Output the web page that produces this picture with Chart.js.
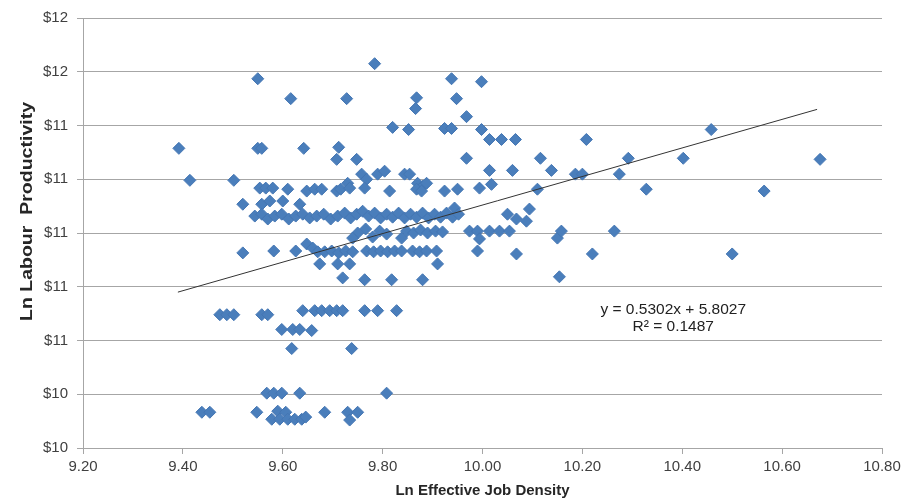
<!DOCTYPE html>
<html>
<head>
<meta charset="utf-8">
<script src="https://cdn.jsdelivr.net/npm/chart.js@4"></script>
<style>
  html, body { margin: 0; padding: 0; background: #ffffff; }
  #c { display: block; }
</style>
</head>
<body>
<canvas id="c" width="910" height="502"></canvas>
<script>
// ---- Data ----
const xTickValues = [9.2, 9.4, 9.6, 9.8, 10.0, 10.2, 10.4, 10.6, 10.8];
const xTickLabels = ['9.20', '9.40', '9.60', '9.80', '10.00', '10.20', '10.40', '10.60', '10.80'];
const yTickValues = [10.2, 10.4, 10.6, 10.8, 11.0, 11.2, 11.4, 11.6, 11.8];
const yTickLabels = ['$10', '$10', '$11', '$11', '$11', '$11', '$11', '$12', '$12'];

const xValues = [
  // upper points
  9.784, 9.550, 9.938, 9.998, 9.616, 9.728, 9.868, 9.866, 9.948, 9.968,
  9.820, 9.852, 9.924, 9.938, 9.998, 10.014, 10.038, 10.066, 10.208, 9.392,
  9.550, 9.558, 9.642, 9.712, 9.708, 9.748, 9.968, 10.116, 10.292, 10.402,
  10.458, 10.676, 10.014, 10.060, 10.138,
  // ~11.2 band
  9.758, 9.768, 9.790, 9.804, 9.844, 9.854, 9.870, 9.880, 9.888, 9.730,
  9.414, 9.502, 9.554, 9.566, 9.580, 9.610, 9.648, 9.664, 9.678, 9.708,
  9.716, 9.734, 9.764, 9.814, 9.868, 9.878, 9.924, 9.950, 9.994, 10.018,
  10.110, 10.186, 10.200, 10.274, 10.328, 10.564,
  // ~11.1 band
  9.520, 9.558, 9.574, 9.600, 9.634, 9.944, 10.094, 10.050, 10.068, 10.088,
  // dense ~11.06 band
  9.544, 9.558, 9.570, 9.584, 9.598, 9.612, 9.626, 9.640, 9.654, 9.668,
  9.682, 9.696, 9.710, 9.724, 9.736, 9.748, 9.760, 9.772, 9.784, 9.796,
  9.808, 9.820, 9.832, 9.844, 9.856, 9.868, 9.880, 9.892, 9.904, 9.916,
  9.928, 9.940, 9.952,
  // ~11.0 to 10.8 bands
  9.750, 9.766, 9.780, 9.794, 9.808, 9.848, 9.862, 9.876, 9.890, 9.906,
  9.920, 9.974, 9.990, 10.014, 10.034, 10.054, 9.740, 9.838, 9.994, 9.648,
  9.660, 9.670, 9.520, 9.582, 9.626, 9.684, 9.698, 9.712, 9.726, 9.740,
  9.768, 9.782, 9.796, 9.810, 9.824, 9.838, 9.860, 9.874, 9.888, 9.908,
  9.990, 10.068, 9.674, 9.710, 9.734, 9.910, 9.720, 9.764, 9.818, 9.880,
  10.150, 10.158, 10.264, 10.220, 10.154, 10.500,
  // ~10.7 to 10.57 bands
  9.474, 9.488, 9.502, 9.558, 9.570, 9.640, 9.664, 9.678, 9.694, 9.708,
  9.720, 9.764, 9.790, 9.828, 9.598, 9.620, 9.634, 9.658, 9.618, 9.738,
  // lowest bands
  9.568, 9.582, 9.598, 9.634, 9.808, 9.438, 9.454, 9.548, 9.684, 9.730,
  9.750, 9.734, 9.578, 9.590, 9.594, 9.606, 9.610, 9.624, 9.638, 9.646
];

const yValues = [
  // upper points
  11.630, 11.574, 11.574, 11.563, 11.500, 11.500, 11.503, 11.463, 11.500, 11.433,
  11.393, 11.385, 11.389, 11.389, 11.385, 11.348, 11.348, 11.348, 11.348, 11.315,
  11.315, 11.315, 11.315, 11.319, 11.274, 11.274, 11.278, 11.278, 11.278, 11.278,
  11.385, 11.274, 11.233, 11.233, 11.233,
  // ~11.2 band
  11.219, 11.200, 11.219, 11.230, 11.219, 11.219, 11.185, 11.174, 11.185, 11.185,
  11.196, 11.196, 11.167, 11.167, 11.167, 11.163, 11.156, 11.163, 11.163, 11.156,
  11.163, 11.167, 11.167, 11.156, 11.163, 11.156, 11.156, 11.163, 11.167, 11.181,
  11.163, 11.219, 11.219, 11.219, 11.163, 11.156,
  // ~11.1 band
  11.107, 11.107, 11.119, 11.119, 11.107, 11.093, 11.089, 11.070, 11.052, 11.044,
  // dense ~11.06 band
  11.063, 11.070, 11.052, 11.063, 11.070, 11.052, 11.063, 11.070, 11.056, 11.063,
  11.070, 11.052, 11.063, 11.074, 11.056, 11.070, 11.081, 11.063, 11.074, 11.056,
  11.070, 11.059, 11.074, 11.056, 11.070, 11.059, 11.074, 11.056, 11.070, 11.059,
  11.074, 11.059, 11.070,
  // ~11.0 to 10.8 bands
  11.000, 11.015, 10.985, 11.007, 10.996, 11.007, 11.000, 11.011, 11.000, 11.007,
  11.004, 11.007, 11.007, 11.007, 11.007, 11.007, 10.981, 10.981, 10.978, 10.959,
  10.944, 10.930, 10.926, 10.933, 10.933, 10.930, 10.933, 10.926, 10.933, 10.930,
  10.933, 10.930, 10.933, 10.930, 10.933, 10.933, 10.933, 10.930, 10.933, 10.933,
  10.933, 10.922, 10.885, 10.885, 10.885, 10.885, 10.833, 10.826, 10.826, 10.826,
  10.981, 11.007, 11.007, 10.922, 10.837, 10.922,
  // ~10.7 to 10.57 bands
  10.696, 10.696, 10.696, 10.696, 10.696, 10.711, 10.711, 10.711, 10.711, 10.711,
  10.711, 10.711, 10.711, 10.711, 10.641, 10.641, 10.641, 10.637, 10.570, 10.570,
  // lowest bands
  10.404, 10.404, 10.404, 10.404, 10.404, 10.333, 10.333, 10.333, 10.333, 10.333,
  10.333, 10.304, 10.307, 10.337, 10.307, 10.333, 10.307, 10.307, 10.307, 10.315
];

// Linear trendline endpoints as drawn in the reference
const trendX = [9.39, 10.67];
const trendY = [10.78, 11.46];
const equationLines = ['y = 0.5302x + 5.8027', 'R\u00B2 = 0.1487'];
const xTitle = 'Ln Effective Job Density';
const yTitle = 'Ln Labour  Productivity';

// ---- Chart ----
const points = xValues.map((x, i) => ({ x: x, y: yValues[i] }));
const trend = trendX.map((x, i) => ({ x: x, y: trendY[i] }));

const gridColor = '#a6a6a6';
const tickFont = { family: 'Liberation Sans, Arial, sans-serif', size: 15 };

const annotationPlugin = {
  id: 'annot',
  afterDraw(chart) {
    const ctx = chart.ctx;
    const xs = chart.scales.x, ys = chart.scales.y;
    ctx.save();
    ctx.fillStyle = '#222222';
    ctx.font = '15.5px "Liberation Sans", Arial, sans-serif';
    ctx.textAlign = 'center';
    ctx.textBaseline = 'middle';
    const cx = xs.getPixelForValue(10.382);
    ctx.fillText(equationLines[0], cx, ys.getPixelForValue(10.713));
    ctx.fillText(equationLines[1], cx, ys.getPixelForValue(10.650));
    // y axis title
    ctx.translate(28, ys.getPixelForValue(11.08));
    ctx.rotate(-Math.PI / 2);
    ctx.scale(1.22, 1);
    ctx.font = 'bold 16px "Liberation Sans", Arial, sans-serif';
    ctx.fillStyle = '#262626';
    ctx.fillText(yTitle, 0, 0);
    ctx.restore();
  }
};

new Chart(document.getElementById('c'), {
  type: 'scatter',
  data: {
    datasets: [
      {
        data: points,
        pointStyle: 'rectRot',
        pointRadius: 6,
        pointHoverRadius: 6,
        backgroundColor: '#4a7ebb',
        borderColor: '#4476b3',
        borderWidth: 1,
        order: 1
      },
      {
        type: 'line',
        data: trend,
        borderColor: '#333333',
        borderWidth: 1,
        pointRadius: 0,
        fill: false,
        order: 0
      }
    ]
  },
  options: {
    responsive: false,
    animation: false,
    devicePixelRatio: 1,
    layout: { padding: { left: 0, right: 28, top: 16, bottom: 0 } },
    plugins: { legend: { display: false }, tooltip: { enabled: false } },
    scales: {
      x: {
        type: 'linear',
        min: 9.2,
        max: 10.8,
        afterBuildTicks: (s) => { s.ticks = xTickValues.map(v => ({ value: v })); },
        afterFit: (s) => { s.height = 54; },
        ticks: {
          callback: (v, i) => xTickLabels[i],
          font: tickFont,
          color: '#404040',
          padding: 4,
          maxRotation: 0,
          autoSkip: false
        },
        grid: { drawOnChartArea: false, drawTicks: true, tickLength: 6, color: gridColor },
        border: { display: true, color: gridColor },
        title: {
          display: true,
          text: xTitle,
          font: { family: 'Liberation Sans, Arial, sans-serif', size: 15, weight: 'bold' },
          color: '#262626',
          padding: { top: 0, bottom: 2 }
        }
      },
      y: {
        type: 'linear',
        min: 10.2,
        max: 11.8,
        afterBuildTicks: (s) => { s.ticks = yTickValues.map(v => ({ value: v })); },
        afterFit: (s) => { s.width = 83; },
        ticks: {
          callback: (v, i) => yTickLabels[i],
          font: tickFont,
          color: '#404040',
          padding: 9,
          autoSkip: false
        },
        grid: { drawOnChartArea: true, drawTicks: true, tickLength: 6, color: gridColor },
        border: { display: true, color: gridColor }
      }
    }
  },
  plugins: [annotationPlugin]
});
</script>
</body>
</html>
